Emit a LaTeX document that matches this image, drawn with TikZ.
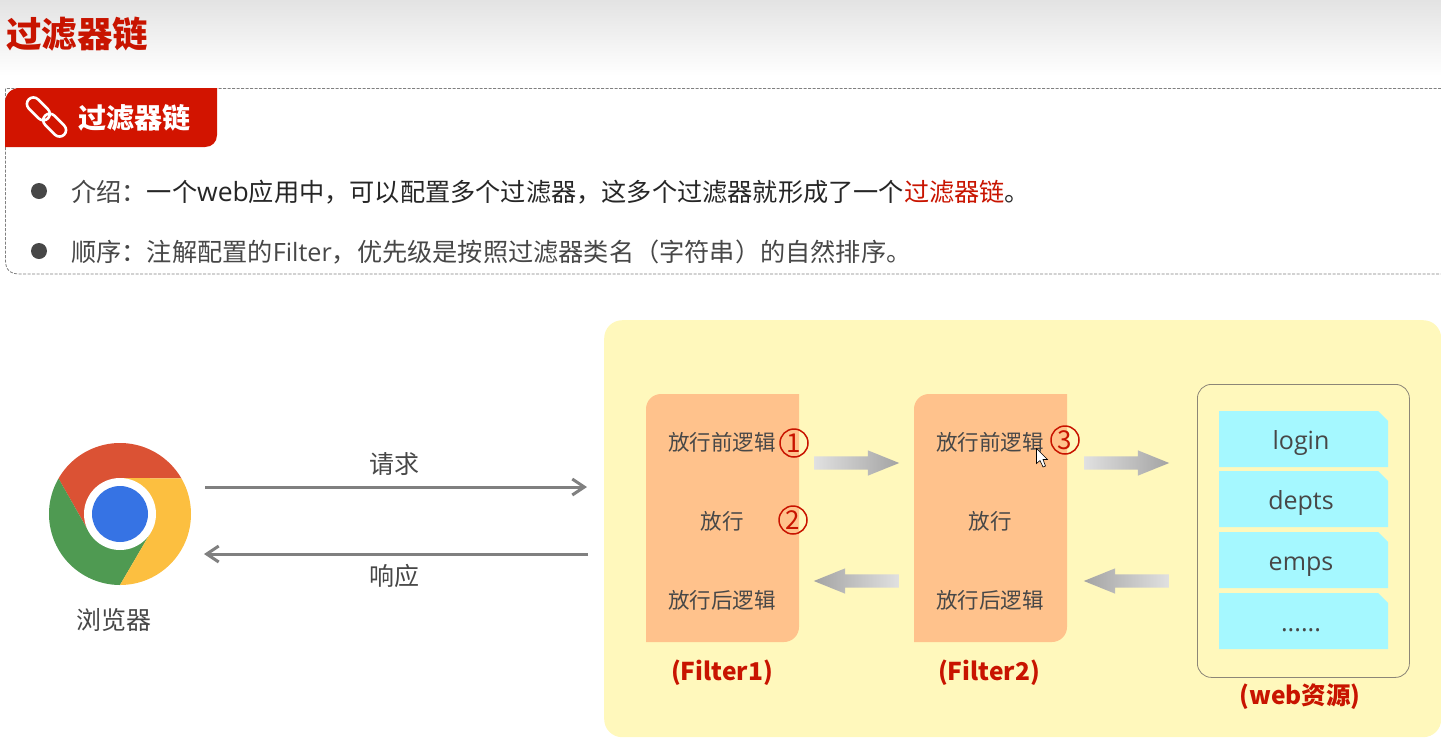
\documentclass[tikz,border=0pt]{standalone}
\usepackage{fontspec}
\setmainfont{Noto Sans CJK SC}
\newfontfamily\latinfont{Open Sans}
\usepackage{tikz}
\usetikzlibrary{shapes.arrows,shapes.misc,arrows.meta}
\definecolor{titlered}{HTML}{C81400}
\definecolor{tabred}{HTML}{D21400}
\definecolor{bodygray}{HTML}{474747}
\definecolor{panelyellow}{HTML}{FFF8BC}
\definecolor{filterorange}{HTML}{FFC28C}
\definecolor{cardblue}{HTML}{A5F8FF}
\definecolor{webline}{HTML}{8C8677}
\definecolor{chromered}{HTML}{DB5234}
\definecolor{chromegreen}{HTML}{4F9A52}
\definecolor{chromeyellow}{HTML}{FCBF40}
\definecolor{chromeblue}{HTML}{3673E4}
\newcommand{\fs}[1]{\fontsize{#1}{#1}\selectfont}
\tikzset{
  flowline/.style={draw=black!50,line width=3pt,-{Straight Barb[length=12pt,width=16pt,line width=3pt]}},
  blockarrow/.style={single arrow,anchor=tail,minimum width=25pt,minimum height=85pt,inner sep=0pt,text height=13pt,text depth=0pt,
    single arrow head extend=6pt,single arrow tip angle=44,shape border uses incircle=false},
  rightarrow/.style={blockarrow,left color=black!12,right color=black!36},
  leftarrow/.style={blockarrow,shape border rotate=180,left color=black!36,right color=black!12},
  filterbox/.style={fill=filterorange},
  filtertext/.style={text=bodygray,inner sep=0pt,font=\fs{21.5}},
  stepmark/.style={circle,draw=titlered,line width=1.5pt,minimum size=28pt,inner sep=0pt,text=titlered,font=\fs{26}},
  caption/.style={text=titlered,inner sep=0pt,font=\fs{24.5}\bfseries},
  plaintext/.style={text=bodygray,inner sep=0pt,font=\fs{25}},
  card/.style={chamfered rectangle,chamfered rectangle corners=north east,chamfered rectangle xsep=5pt,
    chamfered rectangle ysep=5pt,fill=cardblue,minimum width=169pt,minimum height=56pt,inner sep=0pt,
    text=bodygray,font=\latinfont\fs{25},text height=26pt,text depth=5pt,execute at end node=\kern5pt},
  dotitem/.style={circle,fill=bodygray,minimum size=16pt,inner sep=0pt},
  lineitem/.style={anchor=west,inner sep=0pt,text=bodygray,font=\fs{25.2}}
}
\begin{document}
\begin{tikzpicture}[x=1pt,y=-1pt]
\useasboundingbox (0,0) rectangle (1441,737);
% header
\shade[top color=black!11,bottom color=white] (0,0) rectangle (1441,76);
\node (title) [anchor=west,inner sep=0pt,text=titlered,font=\fs{35.5}\bfseries] at (6,34) {过滤器链};
% dashed frame and tab
\draw[black!50,dash pattern=on 3pt off 1.5pt,line width=0.8pt] (1441,88.5) -- (5.5,88.5) -- (5.5,260) .. controls (5.5,270) and (10,274) .. (20,274) -- (1441,274);
\fill[tabred] (5,147) -- (5,103) .. controls (5,94) and (11,88) .. (20,88) -- (217,88) -- (217,135) .. controls (217,142) and (212,147) .. (205,147) -- cycle;
\begin{scope}[shift={(46.5,117)},rotate=-45]
  \draw[white,line width=2.6pt,rounded corners=6.5pt] (-25,-6.5) rectangle (2,6.5);
  \draw[white,line width=2.6pt,rounded corners=6.5pt] (-2,-6.5) rectangle (25,6.5);
\end{scope}
\node (tabtitle) [anchor=west,inner sep=0pt,text=white,font=\fs{28}\bfseries] at (78,118) {过滤器链};
\node (dot1) [dotitem] at (39,191) {};
\node (dot2) [dotitem] at (39,251) {};
\node (line1) [lineitem] at (71,192) {介绍：\textcolor{black!85}{一个{\latinfont\fs{26.5}web}应用中，可以配置多个过滤器，这多个过滤器就形成了一个}\textcolor{titlered}{过滤器链}\textcolor{black!85}{。}};
\node (line2) [lineitem] at (71,252) {顺序：注解配置的{\latinfont Filter}，优先级是按照过滤器类名（字符串）的自然排序。};
% panel
\node (panel) [anchor=north west,fill=panelyellow,rounded corners=18pt,minimum width=837pt,minimum height=417pt,inner sep=0pt] at (604,320) {};
% browser
\begin{scope}[shift={(120,514)},x=1pt,y=1pt]
  \fill[chromered] (150:71) arc (150:30:71) -- (0,36) -- (-31,-18) -- cycle;
  \fill[chromegreen] (150:71) arc (150:270:71) -- (31,-18) -- (-31,-18) -- cycle;
  \fill[chromeyellow] (270:71) arc (270:390:71) -- (0,36) -- (31,-18) -- cycle;
  \fill[white] (0,0) circle (36);
  \fill[chromeblue] (0,0) circle (28);
\end{scope}
\node (browser) [plaintext] at (114,620) {浏览器};
% request and response
\coordinate (reqa) at (205,487);
\coordinate (reqb) at (587,487);
\coordinate (resa) at (588,554);
\coordinate (resb) at (204,554);
\draw[flowline] (reqa) -- (reqb);
\draw[flowline] (resa) -- (resb);
\node (request) [plaintext] at (394,464) {请求};
\node (response) [plaintext] at (394,576) {响应};
% filters
\fill[filterbox] (646,642) [rounded corners=15pt] -- (646,394) [sharp corners] -- (799,394) [rounded corners=15pt] -- (799,642) [sharp corners] -- cycle;
\fill[filterbox] (914,642) [rounded corners=15pt] -- (914,394) [sharp corners] -- (1067,394) [rounded corners=15pt] -- (1067,642) [sharp corners] -- cycle;
\foreach \name/\cx in {fa/722,fb/990}{
  \node (\name top) [filtertext] at (\cx,442) {放行前逻辑};
  \node (\name mid) [filtertext] at (\cx,521) {放行};
  \node (\name low) [filtertext] at (\cx,600) {放行后逻辑};
}
\node (capa) [caption] at (722,673) {(Filter1)};
\node (capb) [caption] at (989,673) {(Filter2)};
\node (mark1) [stepmark] at (794,443) {1};
\node (mark2) [stepmark] at (793,520) {2};
\node (mark3) [stepmark] at (1065,440) {3};
% block arrows
\node (ara) [rightarrow] at (814,463) {};
\node (arb) [rightarrow] at (1084,463) {};
\node (arc) [leftarrow] at (899,581) {};
\node (ard) [leftarrow] at (1169,581) {};
% resources
\node (webbox) [anchor=north west,draw=webline,line width=0.8pt,rounded corners=14pt,minimum width=212pt,minimum height=293pt,inner sep=0pt] at (1197,384) {};
\node (login) [card] at (1303.5,439) {login};
\node (depts) [card] at (1303.5,499) {depts};
\node (emps) [card] at (1303.5,560) {emps};
\node (more) [card] at (1303.5,621) {......};
\node (capc) [caption] at (1300,697) {(web资源)};
% pointer
\filldraw[fill=white,draw=black,line width=0.6pt] (1036.5,448.5) -- (1036.5,463.5) -- (1040,460.5) -- (1043,467) -- (1045.5,466) -- (1043,459.5) -- (1047.5,459.5) -- cycle;
\end{tikzpicture}
\end{document}
